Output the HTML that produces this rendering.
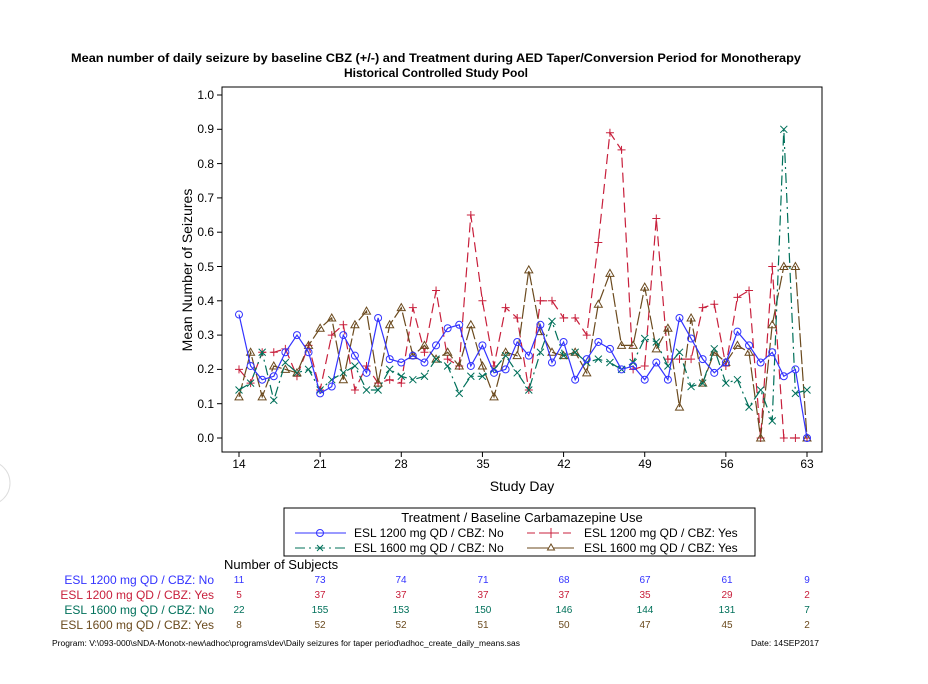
<!DOCTYPE html>
<html><head><meta charset="utf-8"><style>
body{margin:0;background:#fff;}
svg{display:block;font-family:"Liberation Sans",Arial,sans-serif;}
</style></head><body>
<svg id="s" width="928" height="684" viewBox="0 0 928 684" xmlns="http://www.w3.org/2000/svg">
<rect width="928" height="684" fill="#fff"/>
<circle cx="-12" cy="483" r="22" fill="none" stroke="#ddd"/>
<text x="436" y="62" text-anchor="middle" font-size="12" font-weight="bold" textLength="730" lengthAdjust="spacingAndGlyphs">Mean number of daily seizure by baseline CBZ (+/-) and Treatment during AED Taper/Conversion Period for Monotherapy</text>
<text x="436" y="77" text-anchor="middle" font-size="12" font-weight="bold">Historical Controlled Study Pool</text>
<rect x="222" y="87" width="600" height="365" fill="none" stroke="#000" stroke-width="1"/>
<g font-size="12" text-anchor="end">
<text x="214" y="442">0.0</text><text x="214" y="408">0.1</text><text x="214" y="373">0.2</text><text x="214" y="339">0.3</text><text x="214" y="305">0.4</text><text x="214" y="271">0.5</text><text x="214" y="236">0.6</text><text x="214" y="202">0.7</text><text x="214" y="168">0.8</text><text x="214" y="133">0.9</text><text x="214" y="99">1.0</text>
</g>
<g font-size="12" text-anchor="middle">
<text x="239" y="468">14</text><text x="320" y="468">21</text><text x="401" y="468">28</text><text x="483" y="468">35</text><text x="564" y="468">42</text><text x="645" y="468">49</text><text x="727" y="468">56</text><text x="807" y="468">63</text>
</g>
<text x="522" y="491" text-anchor="middle" font-size="14">Study Day</text>
<text transform="translate(192,270) rotate(-90)" text-anchor="middle" font-size="14">Mean Number of Seizures</text>
<g id="ticks" stroke="#000"></g>
<g id="series"></g>
<rect x="284" y="508" width="471" height="48" fill="none" stroke="#000"/>
<text x="522" y="522" text-anchor="middle" font-size="13">Treatment / Baseline Carbamazepine Use</text>
<g font-size="12">
<line x1="295" y1="533" x2="346" y2="533" stroke="#3333ff"/><circle cx="320" cy="533" r="3.5" fill="none" stroke="#3333ff"/>
<text x="354" y="537">ESL 1200 mg QD / CBZ: No</text>
<line x1="527" y1="533" x2="574" y2="533" stroke="#c8203c" stroke-dasharray="8,4"/><path d="M551 528v10M546 533h10" stroke="#c8203c"/>
<text x="584" y="537">ESL 1200 mg QD / CBZ: Yes</text>
<line x1="295" y1="548" x2="346" y2="548" stroke="#00705a" stroke-dasharray="10,4,2,4"/><path d="M317 545l6 6M317 551l6-6" stroke="#00705a"/>
<text x="354" y="552">ESL 1600 mg QD / CBZ: No</text>
<line x1="527" y1="548" x2="574" y2="548" stroke="#6b4a1e"/><path d="M551 544l-3.5 6h7z" fill="#fff" stroke="#6b4a1e"/>
<text x="584" y="552">ESL 1600 mg QD / CBZ: Yes</text>
</g>
<text x="224" y="569" font-size="13">Number of Subjects</text>
<g font-size="12" text-anchor="end">
<text x="214" y="584" fill="#3333ff">ESL 1200 mg QD / CBZ: No</text>
<text x="214" y="599" fill="#c8203c">ESL 1200 mg QD / CBZ: Yes</text>
<text x="214" y="614" fill="#00705a">ESL 1600 mg QD / CBZ: No</text>
<text x="214" y="629" fill="#6b4a1e">ESL 1600 mg QD / CBZ: Yes</text>
</g>
<g font-size="10" text-anchor="middle">
<g fill="#3333ff"><text x="239" y="583">11</text><text x="320" y="583">73</text><text x="401" y="583">74</text><text x="483" y="583">71</text><text x="564" y="583">68</text><text x="645" y="583">67</text><text x="727" y="583">61</text><text x="807" y="583">9</text></g>
<g fill="#c8203c"><text x="239" y="598">5</text><text x="320" y="598">37</text><text x="401" y="598">37</text><text x="483" y="598">37</text><text x="564" y="598">37</text><text x="645" y="598">35</text><text x="727" y="598">29</text><text x="807" y="598">2</text></g>
<g fill="#00705a"><text x="239" y="613">22</text><text x="320" y="613">155</text><text x="401" y="613">153</text><text x="483" y="613">150</text><text x="564" y="613">146</text><text x="645" y="613">144</text><text x="727" y="613">131</text><text x="807" y="613">7</text></g>
<g fill="#6b4a1e"><text x="239" y="628">8</text><text x="320" y="628">52</text><text x="401" y="628">52</text><text x="483" y="628">51</text><text x="564" y="628">50</text><text x="645" y="628">47</text><text x="727" y="628">45</text><text x="807" y="628">2</text></g>
</g>
<text x="52" y="646" font-size="8" textLength="468" lengthAdjust="spacingAndGlyphs">Program: V:\093-000\sNDA-Monotx-new\adhoc\programs\dev\Daily seizures for taper period\adhoc_create_daily_means.sas</text>
<text x="819" y="646" font-size="8.5" text-anchor="end">Date: 14SEP2017</text>
</svg>
<script>
function X(d){return 239+(d-14)*(807-239)/49;}
function Y(v){return 438-v*343;}
var t=document.getElementById("ticks"),h="";
[14,21,28,35,42,49,56,63].forEach(function(d){h+='<line x1="'+X(d)+'" y1="452" x2="'+X(d)+'" y2="457"/>';});
for(var i=0;i<=10;i++){var y=Y(i/10);h+='<line x1="217" y1="'+y+'" x2="222" y2="'+y+'"/>';}
t.innerHTML=h;
var S=[
{c:"#c8203c",d:"10,5",m:"p",v:[.20,.16,.25,.25,.26,.18,.27,.14,.30,.33,.14,.21,.16,.17,.16,.38,.25,.43,.23,.21,.65,.40,.21,.38,.35,.14,.40,.40,.35,.35,.30,.57,.89,.84,.20,.21,.64,.23,.23,.23,.38,.39,.21,.41,.43,0,.50,0,0,0]},
{c:"#6b4a1e",d:"14,3",m:"t",v:[.12,.25,.12,.21,.20,.19,.27,.32,.35,.17,.33,.37,.16,.33,.38,.24,.27,.23,.25,.21,.33,.21,.12,.25,.24,.49,.31,.25,.24,.25,.19,.39,.48,.27,.27,.44,.26,.32,.09,.35,.16,.25,.22,.27,.25,0,.33,.50,.50,0]},
{c:"#00705a",d:"10,4,2,4",m:"x",v:[.14,.16,.25,.11,.22,.19,.20,.14,.17,.19,.21,.14,.14,.20,.18,.17,.18,.23,.21,.13,.18,.18,.20,.24,.19,.14,.25,.34,.24,.25,.22,.23,.22,.20,.22,.29,.28,.21,.25,.15,.16,.26,.16,.17,.09,.14,.05,.90,.13,.14]},
{c:"#3333ff",d:"",m:"o",v:[.36,.21,.17,.18,.25,.30,.25,.13,.15,.30,.24,.19,.35,.23,.22,.24,.22,.27,.32,.33,.21,.27,.19,.20,.28,.24,.33,.22,.28,.17,.23,.28,.26,.20,.21,.17,.22,.17,.35,.29,.23,.19,.22,.31,.27,.22,.25,.18,.20,0]}
];
var g=document.getElementById("series"),out="";
S.forEach(function(s){
 var pts=s.v.map(function(v,i){return X(14+i).toFixed(1)+","+Y(v).toFixed(1);}).join(" ");
 out+='<polyline points="'+pts+'" fill="none" stroke="'+s.c+'" stroke-width="1.2"'+(s.d?' stroke-dasharray="'+s.d+'"':'')+'/>';
 s.v.forEach(function(v,i){var x=X(14+i),y=Y(v);
  if(s.m=="o")out+='<circle cx="'+x+'" cy="'+y+'" r="3.5" fill="none" stroke="'+s.c+'"/>';
  else if(s.m=="p")out+='<path d="M'+(x-4)+' '+y+'h8M'+x+' '+(y-4)+'v8" stroke="'+s.c+'"/>';
  else if(s.m=="x")out+='<path d="M'+(x-3.5)+' '+(y-3.5)+'l7 7M'+(x-3.5)+' '+(y+3.5)+'l7-7" stroke="'+s.c+'"/>';
  else out+='<path d="M'+x+' '+(y-4)+'l-4 7h8z" fill="none" stroke="'+s.c+'"/>';
 });
});
g.innerHTML=out;
</script>
</body></html>
